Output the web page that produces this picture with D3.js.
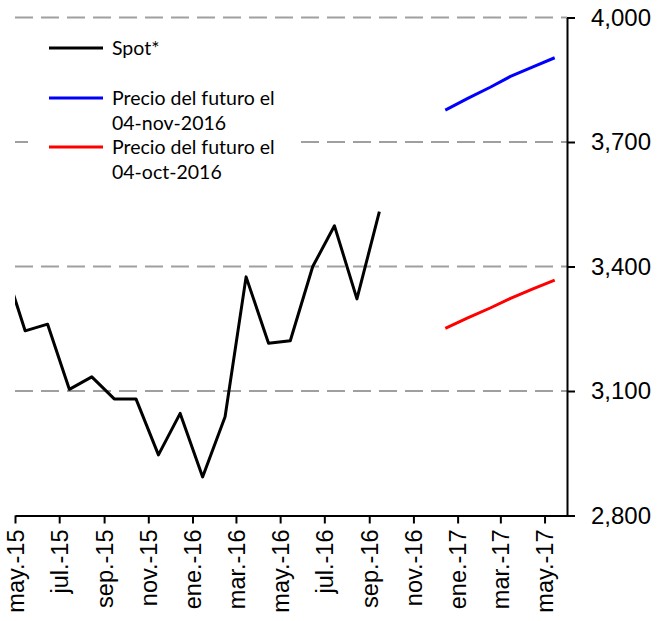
<!DOCTYPE html>
<html>
<head>
<meta charset="utf-8">
<script src="https://cdn.jsdelivr.net/npm/d3@7/dist/d3.min.js"></script>
<style>
  html, body { margin: 0; padding: 0; background: #fff; }
  svg { display: block; font-family: Lato, "Open Sans", sans-serif; }
</style>
</head>
<body>
<svg id="chart" width="666" height="621"></svg>
<script>
// ---- data ----
const spotDates = ["2015-04-15","2015-05-15","2015-06-15","2015-07-15","2015-08-15","2015-09-15","2015-10-15","2015-11-15","2015-12-15","2016-01-15","2016-02-15","2016-03-15","2016-04-15","2016-05-15","2016-06-15","2016-07-15","2016-08-15","2016-09-15"];
const spotValues = [3408, 3245, 3261, 3104, 3134, 3081, 3081, 2946, 3046, 2893, 3038, 3375, 3215, 3221, 3400, 3498, 3322, 3532];

const futDates = ["2016-12-15","2017-01-15","2017-02-15","2017-03-15","2017-04-15","2017-05-15"];
const futNovValues = [3777, 3805, 3832, 3858, 3881, 3903];
const futOctValues = [3251, 3276, 3300, 3323, 3346, 3367];

const tickDates = ["2015-05-01","2015-07-01","2015-09-01","2015-11-01","2016-01-01","2016-03-01","2016-05-01","2016-07-01","2016-09-01","2016-11-01","2017-01-01","2017-03-01","2017-05-01"];
const tickLabels = ["may.-15","jul.-15","sep.-15","nov.-15","ene.-16","mar.-16","may.-16","jul.-16","sep.-16","nov.-16","ene.-17","mar.-17","may.-17"];
const yTicks = [2800, 3100, 3400, 3700, 4000];

const seriesNames = ["Spot*", "Precio del futuro el|04-nov-2016", "Precio del futuro el|04-oct-2016"];
const seriesColors = ["#000000", "#0000ff", "#ff0000"];

// ---- layout ----
const parse = d3.utcParse("%Y-%m-%d");
const pLeft = 15, pRight = 567, pTop = 17.5, pBottom = 515.5;

const x = d3.scaleUtc()
  .domain([parse("2015-05-01"), parse("2017-06-01")])
  .range([pLeft, pRight]);
const y = d3.scaleLinear().domain([2800, 4000]).range([pBottom, pTop]);

const svg = d3.select("#chart");

svg.append("defs").append("clipPath").attr("id", "plotclip")
  .append("rect").attr("x", pLeft).attr("y", 0).attr("width", pRight - pLeft).attr("height", 621);

// gridlines
svg.append("g").selectAll("line").data(yTicks.filter(d => d > 2800)).join("line")
  .attr("x1", pLeft).attr("x2", pRight)
  .attr("y1", d => y(d)).attr("y2", d => y(d))
  .attr("stroke", "#9f9f9f").attr("stroke-width", 2)
  .attr("stroke-dasharray", "18,8");

// legend background (hides gridline)
const lg = svg.append("g");
lg.append("rect").attr("x", 28).attr("y", 26).attr("width", 266).attr("height", 165).attr("fill", "#fff");

// lines
const line = d3.line().x(d => x(d[0])).y(d => y(d[1]));
const plot = svg.append("g").attr("clip-path", "url(#plotclip)");
const series = [
  spotDates.map((d, i) => [parse(d), spotValues[i]]),
  futDates.map((d, i) => [parse(d), futNovValues[i]]),
  futDates.map((d, i) => [parse(d), futOctValues[i]])
];
series.forEach((s, i) => {
  plot.append("path").datum(s).attr("d", line)
    .attr("fill", "none").attr("stroke", seriesColors[i])
    .attr("stroke-width", 3).attr("stroke-linejoin", "round");
});

// x axis
const xAxis = d3.axisBottom(x)
  .tickValues(tickDates.map(parse))
  .tickFormat((d, i) => tickLabels[i])
  .tickSize(8).tickSizeOuter(0);
const gx = svg.append("g").attr("transform", `translate(0,${pBottom})`).call(xAxis);
gx.select(".domain").attr("stroke", "#000").attr("stroke-width", 2);
gx.selectAll(".tick line").attr("stroke", "#000").attr("stroke-width", 2);
gx.selectAll(".tick text")
  .attr("font-size", 23.5).attr("fill", "#000")
  .attr("text-anchor", "end")
  .attr("transform", "rotate(-90)")
  .attr("x", -14).attr("y", 0).attr("dy", "0.35em");

// y axis
const yAxis = d3.axisRight(y).tickValues(yTicks).tickFormat(d3.format(",")).tickSize(8).tickSizeOuter(0);
const gy = svg.append("g").attr("transform", `translate(${pRight},0)`).call(yAxis);
gy.select(".domain").attr("stroke", "#000").attr("stroke-width", 2);
gy.selectAll(".tick line").attr("stroke", "#000").attr("stroke-width", 2);
gy.selectAll(".tick text").attr("font-size", 24).attr("fill", "#000").attr("x", 24);

// legend
const legendY = [48, 98, 147];
seriesNames.forEach((name, i) => {
  lg.append("line").attr("x1", 49).attr("x2", 103)
    .attr("y1", legendY[i]).attr("y2", legendY[i])
    .attr("stroke", seriesColors[i]).attr("stroke-width", 3);
  const parts = name.split("|");
  parts.forEach((p, j) => {
    lg.append("text").attr("x", 112).attr("y", legendY[i] + 6.5 + j * 25)
      .attr("font-size", 19.5).attr("fill", "#000").text(p);
  });
});
</script>
</body>
</html>
